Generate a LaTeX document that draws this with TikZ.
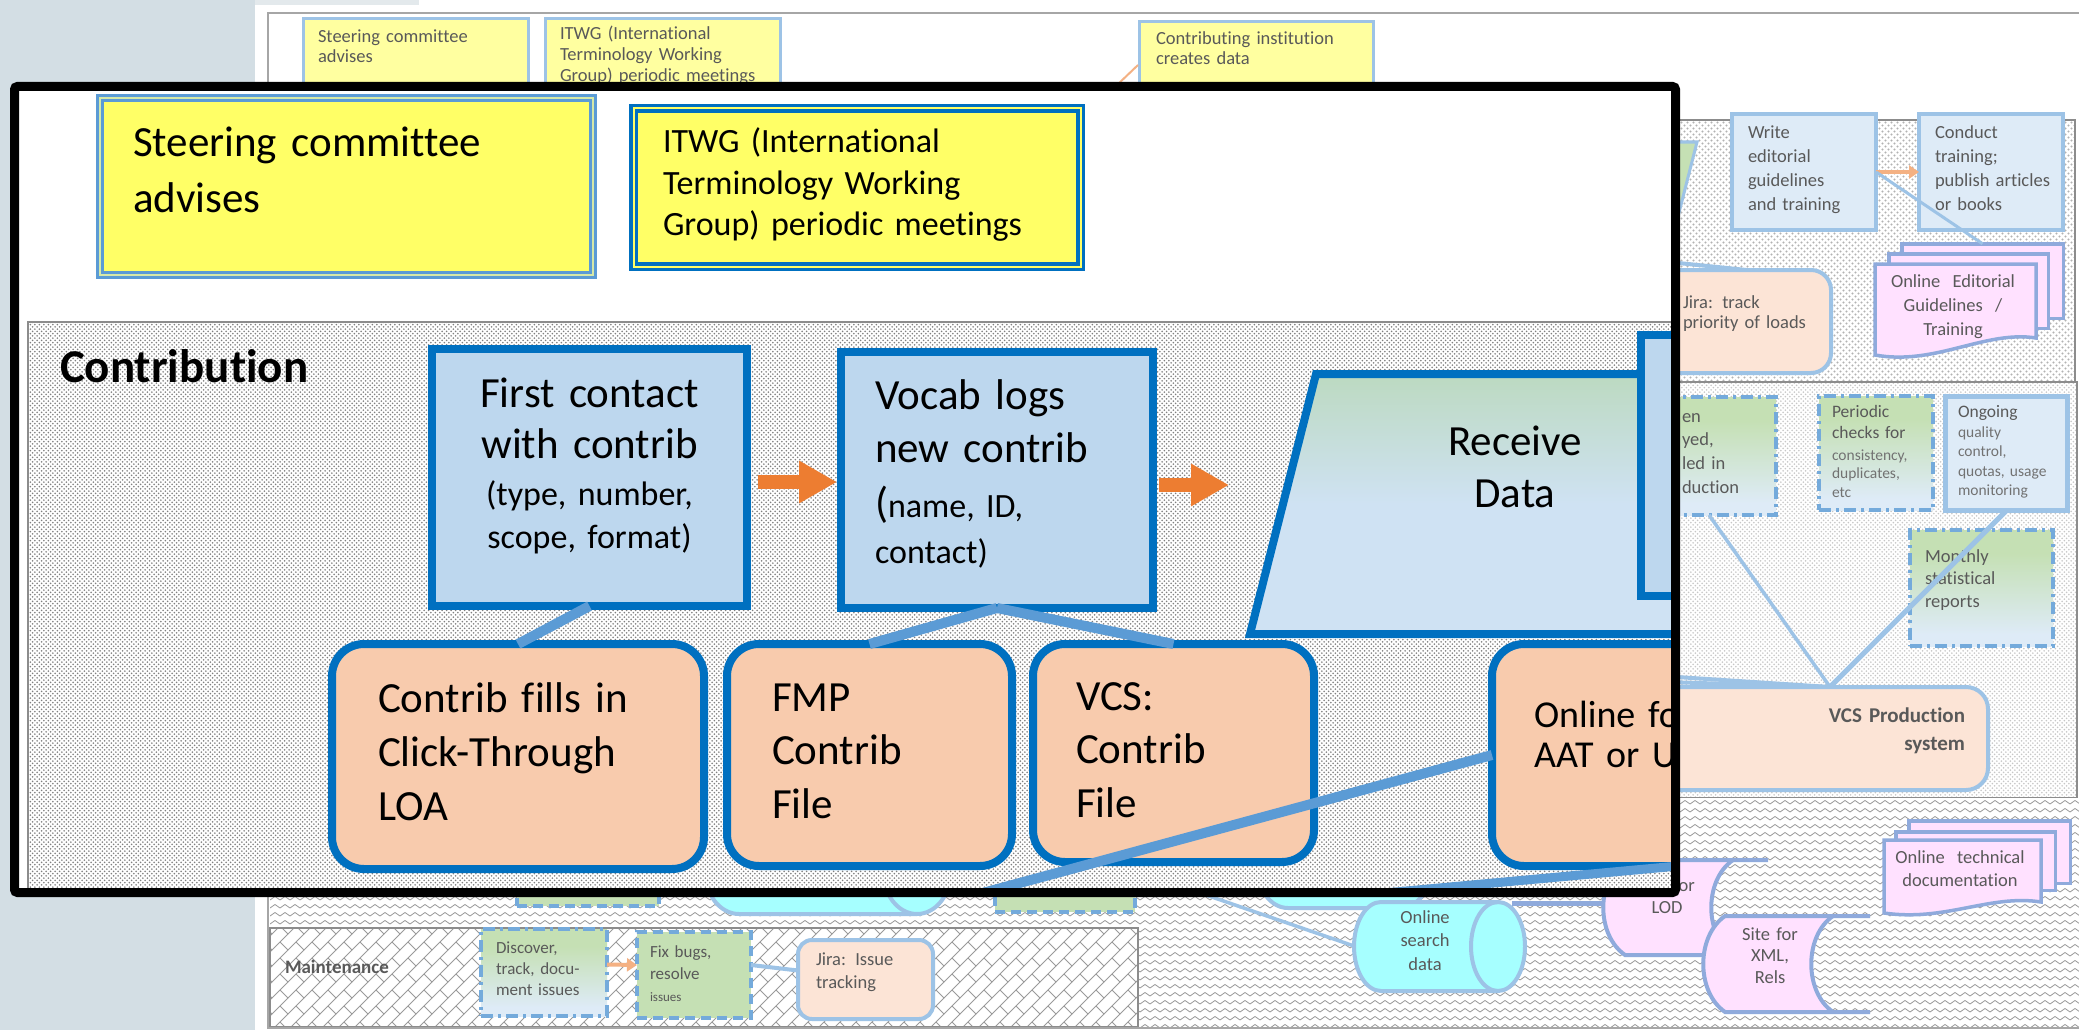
\documentclass[tikz,border=0pt]{standalone}
\usepackage{fontspec}
\setmainfont{Carlito}[Ligatures=NoCommon]
\usetikzlibrary{patterns,arrows.meta,calc}

\definecolor{leftbg}{HTML}{D3DEE4}
\definecolor{topstrip}{HTML}{E3E9EC}
\definecolor{framegray}{HTML}{A6A6A6}
\definecolor{lanegray}{HTML}{8C8C8C}
\definecolor{dkblue}{HTML}{0070C0}
\definecolor{boxblue}{HTML}{BDD7EE}
\definecolor{peach}{HTML}{F8CBAD}
\definecolor{yel}{HTML}{FFFF66}
\definecolor{conblue}{HTML}{5B9BD5}
\definecolor{orng}{HTML}{ED7D31}
\definecolor{ltorng}{HTML}{F4B183}
\definecolor{ltblue}{HTML}{9DC3E6}
\definecolor{paleblue}{HTML}{DEEBF7}
\definecolor{palepeach}{HTML}{FCE4D6}
\definecolor{pinkf}{HTML}{FFE1FF}
\definecolor{pinkbd}{HTML}{8FAADC}
\definecolor{cyanf}{HTML}{A6FFFF}
\definecolor{grn}{HTML}{C5E0B4}
\definecolor{grnish}{HTML}{D6E9A8}
\definecolor{ltyel}{HTML}{FFFFA0}
\definecolor{txtgray}{HTML}{595959}
\definecolor{recvgreen}{HTML}{A9D18E}
\definecolor{recvblue}{HTML}{CFE2F3}
\definecolor{patgray}{HTML}{9A9A9A}
\definecolor{patdark}{HTML}{808080}

\pgfdeclareverticalshading{gbshade}{100bp}{color(0bp)=(paleblue); color(30bp)=(paleblue); color(65bp)=(grn); color(100bp)=(grn)}
\pgfdeclareverticalshading{recvshade}{100bp}{color(0bp)=(recvblue); color(50bp)=(recvblue); color(100bp)=(recvgreen)}

\pgfdeclarepatternformonly{finedots}{\pgfqpoint{-1pt}{-1pt}}{\pgfqpoint{5.5pt}{5.5pt}}{\pgfqpoint{4.5pt}{4.5pt}}{%
  \pgfpathcircle{\pgfqpoint{1.1pt}{1.1pt}}{0.9pt}%
  \pgfpathcircle{\pgfqpoint{3.35pt}{3.35pt}}{0.9pt}%
  \pgfusepath{fill}}
\pgfdeclarepatternformonly{dotssix}{\pgfqpoint{-1pt}{-1pt}}{\pgfqpoint{7pt}{7pt}}{\pgfqpoint{6pt}{6pt}}{%
  \pgfpathcircle{\pgfqpoint{1.5pt}{1.5pt}}{1.1pt}%
  \pgfpathcircle{\pgfqpoint{4.5pt}{4.5pt}}{1.1pt}%
  \pgfusepath{fill}}
\pgfdeclarepatternformonly{zigz}{\pgfqpoint{-1pt}{-1pt}}{\pgfqpoint{11pt}{9pt}}{\pgfqpoint{10pt}{8pt}}{%
  \pgfsetlinewidth{0.8pt}%
  \pgfpathmoveto{\pgfqpoint{0pt}{2pt}}\pgfpathlineto{\pgfqpoint{5pt}{5.5pt}}\pgfpathlineto{\pgfqpoint{10pt}{2pt}}%
  \pgfusepath{stroke}}
\pgfdeclarepatternformonly{brickd}{\pgfqpoint{-1pt}{-1pt}}{\pgfqpoint{17pt}{17pt}}{\pgfqpoint{16pt}{16pt}}{%
  \pgfsetlinewidth{0.8pt}%
  \pgfpathmoveto{\pgfqpoint{0pt}{0pt}}\pgfpathlineto{\pgfqpoint{16pt}{16pt}}%
  \pgfpathmoveto{\pgfqpoint{16pt}{0pt}}\pgfpathlineto{\pgfqpoint{8pt}{8pt}}%
  \pgfusepath{stroke}}

\newcommand\myfs[2]{\fontsize{#1}{#2}\selectfont}

\begin{document}
\begin{tikzpicture}[x=1pt,y=-1pt,
  lbl/.style={inner sep=0pt,outer sep=0pt,anchor=base west,align=left,text width=#1pt},
  clbl/.style={inner sep=0pt,outer sep=0pt,anchor=base,align=center,text width=#1pt},
  rlbl/.style={inner sep=0pt,outer sep=0pt,anchor=base east,align=right,text width=#1pt},
  sm/.style={font=\myfs{18.5}{#1},text=txtgray},
  bigbox/.style={draw=dkblue,line width=8pt,fill=boxblue,inner sep=0pt,outer sep=0pt},
  peachbox/.style={draw=dkblue,line width=8pt,fill=peach,rounded corners=32pt,inner sep=0pt,outer sep=0pt},
  conn/.style={draw=conblue,line width=10pt},
  barrow/.style={draw=orng,line width=14pt,-{Triangle[length=38pt,width=40pt]}},
  smbox/.style={draw=ltblue,line width=4pt,fill=paleblue,inner sep=0pt,outer sep=0pt},
  rbox/.style={draw=ltblue,line width=4pt,fill=palepeach,inner sep=0pt,outer sep=0pt},
  dashdotbox/.style={draw=conblue!85,line width=4pt,dash pattern=on 12pt off 5pt on 3pt off 5pt,shading=gbshade,inner sep=0pt,outer sep=0pt},
  dashbox/.style={draw=conblue!85,line width=4pt,dash pattern=on 10pt off 6pt,fill=grn,inner sep=0pt,outer sep=0pt},
  pagest/.style={draw=pinkbd,line width=3.5pt,fill=pinkf,inner sep=0pt,outer sep=0pt},
  cylst/.style={draw=ltblue,line width=4pt,fill=cyanf},
  sline/.style={draw=ltblue,line width=4pt},
  sarrow/.style={draw=ltorng,line width=4pt,-{Triangle[length=10pt,width=13pt]}}
]
\useasboundingbox (0,0) rectangle (2079,1030);

% ---------- background slide ----------
\fill[white] (0,0) rectangle (2079,1030);
\fill[leftbg] (0,0) rectangle (255,1030);
\fill[topstrip] (255,0) rectangle (419,5);

% lanes of the small diagram
\path[preaction={fill=white},pattern=dotssix,pattern color=patgray!75] (280,120) rectangle (2075,382);
\draw[lanegray,line width=2pt] (280,120) rectangle (2075,382);
\path[preaction={fill=white},pattern=finedots,pattern color=patgray!55] (280,382) rectangle (2077,798);
\draw[lanegray,line width=2pt] (280,382) rectangle (2077,798);
\path[preaction={fill=white},pattern=zigz,pattern color=patgray] (270,798) rectangle (2090,1027);
\path[preaction={fill=white},pattern=brickd,pattern color=patgray] (270,928) rectangle (1138,1027);
\draw[lanegray,line width=2pt] (270,928) rectangle (1138,1027);
\draw[framegray,line width=2pt] (268,13) rectangle (2090,1028);

% top row of small diagram
\node[draw=ltblue,line width=3pt,fill=ltyel,minimum width=225pt,minimum height=82pt,inner sep=0pt] (s-steer) at (416,59.5) {};
\node[lbl=220,sm=20] (s-steer-t) at (318,43) {Steering committee\\advises};
\node[draw=ltblue,line width=3pt,fill=ltyel,minimum width=235pt,minimum height=82pt,inner sep=0pt] (s-itwg) at (663,59.5) {};
\node[lbl=230,sm=21] (s-itwg-t) at (560,40) {ITWG (International\\Terminology Working\\Group) periodic meetings};
\node[draw=ltblue,line width=3pt,fill=ltyel,minimum width=234pt,minimum height=79pt,inner sep=0pt] (s-contr) at (1256.5,61) {};
\node[lbl=220,sm=20] (s-contr-t) at (1156,45) {Contributing institution\\creates data};
\coordinate (s-contr-o) at (1116,86);
\draw[ltorng,line width=2pt] ($(s-contr.west)+(0,4)$) -- (s-contr-o);

% lane 1 (editorial)
\draw[fill=grn,draw=ltblue,line width=3pt] (1600,142) -- (1697,142) -- (1672,240) -- (1600,240) -- cycle;
\node[smbox,minimum width=144pt,minimum height=116pt] (s-write) at (1804,172) {};
\node[lbl=130,sm=24] (s-write-t) at (1748,139) {Write\\editorial\\guidelines\\and training};
\node[smbox,minimum width=144pt,minimum height=116pt] (s-cond) at (1991,172) {};
\node[lbl=130,sm=24] (s-cond-t) at (1935,139) {Conduct\\training;\\publish articles\\or books};
\node[pagest,minimum width=161.5pt,minimum height=74.5pt] (s-ed3) at (1982.5,281) {};
\node[pagest,minimum width=159.5pt,minimum height=74.5pt] (s-ed2) at (1968.5,291) {};
\path[pagest] (1875,264) -- (2036,264) -- (2036,338) .. controls (1985,330) and (1935,366) .. (1875,355) -- cycle;
\node[clbl=170,sm=24] (s-ed-t) at (1953,287) {Online~~Editorial\\Guidelines~~/\\Training};
\draw[sarrow] (s-write.east) -- (s-cond.west);
\draw[sline,line width=3pt] (s-write.east) -- (s-ed3.north);
\coordinate (s-j1) at (1600,255);
\node[rbox,rounded corners=20pt,minimum width=229pt,minimum height=103pt] (s-jira) at (1716.5,321.5) {};
\draw[sline] (s-j1) -- ($(s-jira.north)+(30,0)$);
\node[lbl=150,sm=20] (s-jira-t) at (1683,308) {Jira: track\\priority of loads};

% lane 2 (production)
\node[dashdotbox,minimum width=134pt,minimum height=118pt] (s-g1) at (1709,456) {};
\node[lbl=60,sm=23.7] (s-g1-t) at (1682,422) {en\\yed,\\led in\\duction};
\node[dashdotbox,minimum width=114pt,minimum height=114pt] (s-per) at (1876,453) {};
\node[lbl=110,font=\myfs{17.5}{21.5},text=txtgray] (s-per-t1) at (1832,417) {Periodic\\checks for};
\node[lbl=110,font=\myfs{15.5}{18.5},text=txtgray!85] (s-per-t2) at (1832,460) {consistency,\\duplicates,\\etc};
\node[smbox,line width=5pt,minimum width=122pt,minimum height=114pt] (s-ong) at (2006.5,453.5) {};
\node[lbl=110,font=\myfs{17.5}{20},text=txtgray] (s-ong-t1) at (1958,417) {Ongoing};
\node[lbl=110,font=\myfs{15.5}{19.5},text=txtgray!85] (s-ong-t2) at (1958,437) {quality\\control,\\quotas, usage\\monitoring};
\node[dashdotbox,minimum width=143pt,minimum height=116pt] (s-mon) at (1981.5,588) {};
\node[lbl=120,sm=22.5] (s-mon-t) at (1925,562) {Monthly\\statistical\\reports};
\coordinate (s-conv) at (1830,687);
\coordinate (s-l1) at (1600,672);
\coordinate (s-l2) at (1600,680);
\coordinate (s-l3) at (1600,710);
\draw[sline,line width=3.5pt] (s-g1.south) -- (s-conv);
\draw[sline,line width=5pt] (s-ong.south) -- (s-conv);
\draw[sline] (s-l1) -- (s-conv);
\draw[sline] (s-l2) -- (s-conv);
\draw[sline] (s-l3) -- (s-conv);
\node[rbox,rounded corners=22pt,minimum width=386pt,minimum height=103pt] (s-vcsp) at (1795,738.5) {};
\node[rlbl=220,font=\bfseries\myfs{21}{28},text=txtgray] (s-vcsp-t) at (1965,722) {VCS Production\\system};

% lane 3 (access)
\node[dashbox,minimum width=142pt,minimum height=54pt] (s-gA) at (588,879) {};
\path[cylst] (739,828) -- (917,828) arc[start angle=90,end angle=-90,x radius=34pt,y radius=43pt] -- (739,914) arc[start angle=270,end angle=90,x radius=34pt,y radius=43pt] -- cycle;
\draw[ltblue,line width=4pt] (917,828) arc[start angle=90,end angle=270,x radius=34pt,y radius=43pt];
\node[dashbox,minimum width=140pt,minimum height=60pt] (s-gB) at (1065,882) {};
\path[cylst] (1288,832) -- (1400,832) arc[start angle=90,end angle=-90,x radius=30pt,y radius=38pt] -- (1288,908) arc[start angle=270,end angle=90,x radius=30pt,y radius=38pt] -- cycle;
\coordinate (s-s1) at (1180,886);
\coordinate (s-search-w) at (1354,946);
\draw[sline,line width=3.5pt] (s-s1) -- (s-search-w);
\path[cylst] (1381,902) -- (1498,902) arc[start angle=90,end angle=-90,x radius=27pt,y radius=44.5pt] -- (1381,991) arc[start angle=270,end angle=90,x radius=27pt,y radius=44.5pt] -- cycle;
\draw[ltblue,line width=4pt] (1498,902) arc[start angle=90,end angle=270,x radius=27pt,y radius=44.5pt];
\node[clbl=90,sm=23.5] (s-search-t) at (1425,923) {Online\\search\\data};
\coordinate (s-search-ne) at (1512,903);
\coordinate (s-lod-w) at (1606,903);
\draw[pinkbd,line width=5pt] (s-search-ne) -- (s-lod-w);
% LOD store
\path[fill=pinkf] (1625,860) -- (1733,860) .. controls (1704,880) and (1704,935) .. (1733,955) -- (1625,955) .. controls (1596,935) and (1596,880) .. (1625,860) -- cycle;
\draw[pinkbd,line width=4pt] (1768,860) -- (1625,860) .. controls (1596,880) and (1596,935) .. (1625,955) -- (1768,955);
\draw[pinkbd,line width=4pt] (1733,860) .. controls (1704,880) and (1704,935) .. (1733,955);
\node[clbl=100,sm=22] (s-lod-t) at (1667,891) {Site for\\LOD};
% XML store
\path[fill=pinkf] (1725,916) -- (1833,916) .. controls (1804,936) and (1804,992) .. (1833,1012) -- (1725,1012) .. controls (1696,992) and (1696,936) .. (1725,916) -- cycle;
\draw[pinkbd,line width=4pt] (1870,916) -- (1725,916) .. controls (1696,936) and (1696,992) .. (1725,1012) -- (1870,1012);
\draw[pinkbd,line width=4pt] (1833,916) .. controls (1804,936) and (1804,992) .. (1833,1012);
\node[clbl=100,sm=21.5] (s-xml-t) at (1770,940) {Site for\\XML,\\Rels};
% technical documentation
\node[pagest,minimum width=161.5pt,minimum height=62.5pt] (s-td3) at (1989.5,852) {};
\node[pagest,minimum width=159.5pt,minimum height=58.5pt] (s-td2) at (1975.5,861) {};
\path[pagest] (1884,840) -- (2041,840) -- (2041,902) .. controls (1990,894) and (1945,922) .. (1884,913) -- cycle;
\node[clbl=160,sm=23] (s-td-t) at (1960,863) {Online~~technical\\documentation};

% maintenance lane
\node[lbl=150,font=\bfseries\myfs{19}{22},text=txtgray] (s-maint-t) at (285,973) {Maintenance};
\node[dashdotbox,minimum width=126pt,minimum height=87pt] (s-disc) at (544,972.5) {};
\node[lbl=120,font=\myfs{17}{21},text=txtgray] (s-disc-t) at (496,953) {Discover,\\track, docu-\\ment issues};
\node[dashbox,minimum width=114pt,minimum height=86pt] (s-fix) at (694,975) {};
\node[lbl=100,font=\myfs{17}{22},text=txtgray] (s-fix-t) at (650,957) {Fix bugs,\\resolve\\{\myfs{13}{22}issues}};
\node[rbox,rounded corners=14pt,minimum width=135pt,minimum height=79pt] (s-jiri) at (865.5,979.5) {};
\node[lbl=120,sm=23] (s-jiri-t) at (816,965) {Jira: Issue\\tracking};
\draw[sarrow] ($(s-disc.east)+(0,-8)$) -- ($(s-fix.west)+(0,-10)$);
\draw[sline] ($(s-fix.east)+(0,-10)$) -- ($(s-jiri.west)+(0,-9)$);

% ---------- zoomed overlay ----------
\begin{scope}
\clip (18.5,90.5) rectangle (1671.5,888.5);
\fill[white] (10,82) rectangle (1680,897);
\path[preaction={fill=white},pattern=finedots,pattern color=patdark] (28,322) rectangle (1700,920);
\draw[lanegray,line width=2.5pt] (28,322) rectangle (1700,920);

\node[draw=conblue,double=grnish,line width=3pt,double distance=2pt,fill=yel,minimum width=493pt,minimum height=177pt,inner sep=0pt] (steer) at (346.5,186.5) {};
\node[lbl=450,font=\myfs{43}{55}] (steer-t) at (133,157) {Steering committee\\advises};
\node[draw=dkblue,double=yel,line width=3.5pt,double distance=2pt,fill=yel,minimum width=447pt,minimum height=158pt,inner sep=0pt] (itwg) at (857,187.5) {};
\node[lbl=420,font=\myfs{34}{41}] (itwg-t) at (663,153) {ITWG (International\\Terminology Working\\Group) periodic meetings};
\node[lbl=320,font=\bfseries\myfs{47}{50}] (contrib-t) at (60,382) {Contribution};

\shadedraw[shading=recvshade,draw=dkblue,line width=8pt] (1316,374) -- (1760,374) -- (1760,634) -- (1250,634) -- cycle;
\node[clbl=220,font=\myfs{43}{52}] (recv-t) at (1515,455) {Receive\\Data};
\node[bigbox,minimum width=134pt,minimum height=261pt] (rbox) at (1708,465.5) {};

\node[bigbox,minimum width=315pt,minimum height=257pt] (first) at (589.5,477.5) {};
\node[bigbox,minimum width=312pt,minimum height=256pt] (vocab) at (997,480) {};
\node[peachbox,minimum width=372pt,minimum height=225pt] (fills) at (518,756.5) {};
\node[peachbox,minimum width=285pt,minimum height=222pt] (fmp) at (869.5,755) {};
\node[peachbox,minimum width=281pt,minimum height=218pt] (vcs) at (1173.5,753) {};
\node[peachbox,minimum width=304pt,minimum height=222pt] (online) at (1644,755) {};

\coordinate (recv-in) at (1229,485);
\draw[barrow,shorten <=11pt,shorten >=4pt] ($(first.east)+(0,4.5)$) -- ($(vocab.west)+(0,2)$);
\draw[barrow,shorten <=6pt] ($(vocab.east)+(0,5)$) -- (recv-in);

\draw[conn] (first.south) -- (fills.north);
\draw[conn] (vocab.south) -- (fmp.north);
\draw[conn] (vocab.south) -- (vcs.north);
\coordinate (out1) at (968,897);
\draw[conn] (online.west) -- (out1);
\coordinate (out2a) at (1341,897);
\coordinate (out2b) at (1700,864);
\draw[conn,line width=9pt] (out2a) -- (out2b);

\node[clbl=320,font=\myfs{43}{51}] (first-t1) at (589.5,407) {First contact\\with contrib};
\node[clbl=320,font=\myfs{34}{43}] (first-t2) at (589.5,505) {(type, number,\\scope, format)};
\node[lbl=270,font=\myfs{43}{53}] (vocab-t1) at (875,409) {Vocab logs\\new contrib};
\node[lbl=270,font=\myfs{34}{46}] (vocab-t2) at (875,517) {{\myfs{43}{46}(}name, ID,\\contact)};
\node[lbl=320,font=\myfs{43}{54}] (fills-t) at (378,712) {Contrib fills in\\Click-Through\\LOA};
\node[lbl=240,font=\myfs{43}{53.5}] (fmp-t) at (772,711) {FMP\\Contrib\\File};
\node[lbl=240,font=\myfs{43}{53.5}] (vcs-t) at (1076,710) {VCS:\\Contrib\\File};
\node[lbl=220,font=\myfs{38}{40}] (online-t) at (1534,727) {Online for\\AAT or UL};
\end{scope}
\draw[black,line width=9pt,rounded corners=3pt] (14.5,86.5) rectangle (1675.5,892.5);
\end{tikzpicture}
\end{document}
